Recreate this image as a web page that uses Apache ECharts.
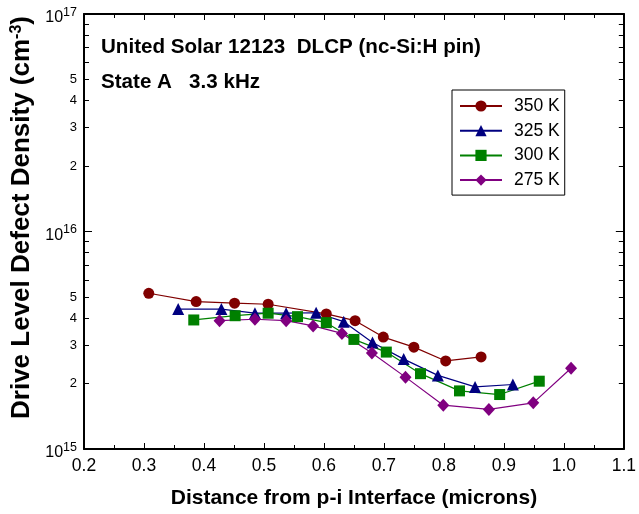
<!DOCTYPE html>
<html>
<head>
<meta charset="utf-8">
<script src="https://cdn.jsdelivr.net/npm/echarts@6/dist/echarts.min.js"></script>
<style>
  html, body { margin: 0; padding: 0; background: #fff; }
  #chart { width: 639px; height: 514px; }
</style>
</head>
<body>
<div id="chart"></div>
<script>
// Drive-level defect density profiles at four temperatures
const seriesNames = ['350 K', '325 K', '300 K', '275 K'];

const x350 = [0.308, 0.387, 0.451, 0.507, 0.604, 0.652, 0.699, 0.750, 0.803, 0.862];
const n350 = [5.20e15, 4.76e15, 4.68e15, 4.63e15, 4.18e15, 3.89e15, 3.27e15, 2.94e15, 2.54e15, 2.65e15];

const x325 = [0.357, 0.429, 0.485, 0.537, 0.587, 0.633, 0.681, 0.733, 0.790, 0.852, 0.915];
const n325 = [4.40e15, 4.40e15, 4.21e15, 4.21e15, 4.23e15, 3.85e15, 3.09e15, 2.59e15, 2.18e15, 1.93e15, 1.98e15];

const x300 = [0.383, 0.452, 0.507, 0.556, 0.604, 0.650, 0.704, 0.761, 0.826, 0.893, 0.959];
const n300 = [3.92e15, 4.10e15, 4.21e15, 4.06e15, 3.81e15, 3.19e15, 2.79e15, 2.22e15, 1.85e15, 1.78e15, 2.05e15];

const x275 = [0.426, 0.485, 0.537, 0.582, 0.630, 0.680, 0.736, 0.799, 0.875, 0.949, 1.012];
const n275 = [3.89e15, 3.95e15, 3.89e15, 3.68e15, 3.40e15, 2.76e15, 2.14e15, 1.59e15, 1.52e15, 1.63e15, 2.35e15];

// Axis ticks and labels
const xTickLabels = ['0.2', '0.3', '0.4', '0.5', '0.6', '0.7', '0.8', '0.9', '1.0', '1.1'];
const yDecadeTicks = [1e15, 1e16, 1e17];
const yMinorTicks = [2e15, 3e15, 4e15, 5e15, 6e15, 7e15, 8e15, 9e15,
                     2e16, 3e16, 4e16, 5e16, 6e16, 7e16, 8e16, 9e16];
const yLabelTicks = [1e15, 2e15, 3e15, 4e15, 5e15, 1e16, 2e16, 3e16, 4e16, 5e16, 1e17];

const titleLines = ['United Solar 12123  DLCP (nc-Si:H pin)', 'State A   3.3 kHz'];

const FONT = '"Liberation Sans", Arial, sans-serif';

function pairs(xs, ys) { return xs.map((x, i) => [x, ys[i]]); }

function yLabel(v) {
  const e = Math.floor(Math.log10(v) + 1e-6);
  const m = Math.round(v / Math.pow(10, e));
  if (m === 1) return '{b|10}{s|' + e + '}';
  return '{d|' + m + '}';
}

const xBase = {
  type: 'value', min: 0.2, max: 1.1, interval: 0.1,
  axisLine: { show: true, onZero: false, lineStyle: { color: '#000', width: 2 } },
  axisTick: { show: true, inside: true, length: 6, lineStyle: { color: '#000', width: 1 } },
  minorTick: { show: true, splitNumber: 2, length: 4, lineStyle: { color: '#000', width: 1 } },
  splitLine: { show: false }
};

const yBase = {
  type: 'log', logBase: 10, min: 1e15, max: 1e17,
  splitLine: { show: false }
};

const chart = echarts.init(document.getElementById('chart'), null, { renderer: 'canvas' });

const colors = ['#800000', '#000080', '#008000', '#800080'];
const symbols = ['circle', 'triangle', 'rect', 'diamond'];
const sizes = [11, 12, 11, [12, 13]];
const datasets = [pairs(x350, n350), pairs(x325, n325), pairs(x300, n300), pairs(x275, n275)];

chart.setOption({
  animation: false,
  backgroundColor: '#fff',
  textStyle: { fontFamily: FONT },
  grid: { left: 84, right: 10, top: 14, bottom: 65, containLabel: false },
  graphic: titleLines.map((t, i) => ({
    type: 'text', x: 101, y: i === 0 ? 47 : 82, z: 10,
    style: { text: t, fill: '#000', fontFamily: FONT, fontWeight: 'bold', fontSize: 20.6,
             align: 'left', verticalAlign: 'middle' }
  })),
  legend: {
    orient: 'vertical', left: 452, top: 90,
    data: seriesNames,
    itemWidth: 42, itemHeight: 14, itemGap: 6.7,
    padding: [7, 5, 6, 7],
    borderColor: '#000', borderWidth: 1, borderRadius: 0,
    backgroundColor: '#fff',
    textStyle: { color: '#000', fontSize: 17.5, fontFamily: FONT, padding: [0, 0, 0, 7] }
  },
  xAxis: [
    Object.assign({}, xBase, {
      position: 'bottom',
      name: 'Distance from p-i Interface (microns)',
      nameLocation: 'middle', nameGap: 39,
      nameTextStyle: { color: '#000', fontSize: 21, fontWeight: 'bold', fontFamily: FONT },
      axisLabel: { show: true, margin: 8, color: '#000', fontSize: 17.5, fontFamily: FONT,
                   formatter: v => xTickLabels[Math.round((v - 0.2) * 10)] }
    }),
    Object.assign({}, xBase, { position: 'top', axisLabel: { show: false } })
  ],
  yAxis: [
    Object.assign({}, yBase, {
      position: 'left',
      name: 'Drive Level Defect Density (cm{sup|-3})',
      nameLocation: 'middle', nameRotate: 90, nameGap: 45,
      nameTextStyle: { color: '#000', fontSize: 26, fontWeight: 'bold', fontFamily: FONT,
                       padding: [0, 0, 0, 28],
                       rich: { sup: { fontSize: 16, fontWeight: 'bold', fontFamily: FONT,
                                      verticalAlign: 'top', padding: [0, 0, 10, 0] } } },
      axisLine: { show: true, onZero: false, lineStyle: { color: '#000', width: 2 } },
      axisTick: { show: true, inside: true, length: 8, customValues: yDecadeTicks,
                  lineStyle: { color: '#000', width: 1 } },
      axisLabel: {
        show: true, margin: 7, color: '#000', customValues: yLabelTicks, formatter: yLabel,
        rich: {
          b: { fontSize: 16, fontFamily: FONT, color: '#000', padding: [8, 0, 0, 0] },
          s: { fontSize: 12.5, fontFamily: FONT, color: '#000', verticalAlign: 'top', padding: [4, 0, 0, 0] },
          d: { fontSize: 13, fontFamily: FONT, color: '#000' }
        }
      }
    }),
    Object.assign({}, yBase, {
      position: 'left',
      axisLine: { show: false },
      axisTick: { show: true, inside: true, length: 5, customValues: yMinorTicks,
                  lineStyle: { color: '#000', width: 1 } },
      axisLabel: { show: false }
    }),
    Object.assign({}, yBase, {
      position: 'right',
      axisLine: { show: true, onZero: false, lineStyle: { color: '#000', width: 2 } },
      axisTick: { show: true, inside: true, length: 8, customValues: yDecadeTicks,
                  lineStyle: { color: '#000', width: 1 } },
      axisLabel: { show: false }
    }),
    Object.assign({}, yBase, {
      position: 'right',
      axisLine: { show: false },
      axisTick: { show: true, inside: true, length: 5, customValues: yMinorTicks,
                  lineStyle: { color: '#000', width: 1 } },
      axisLabel: { show: false }
    })
  ],
  series: seriesNames.map((name, i) => ({
    name: name,
    type: 'line',
    xAxisIndex: 0, yAxisIndex: 0,
    data: datasets[i],
    symbol: symbols[i],
    symbolSize: sizes[i],
    showAllSymbol: true,
    itemStyle: { color: colors[i] },
    lineStyle: { color: colors[i], width: 1.2 },
    emphasis: { disabled: true }
  }))
});
</script>
</body>
</html>
